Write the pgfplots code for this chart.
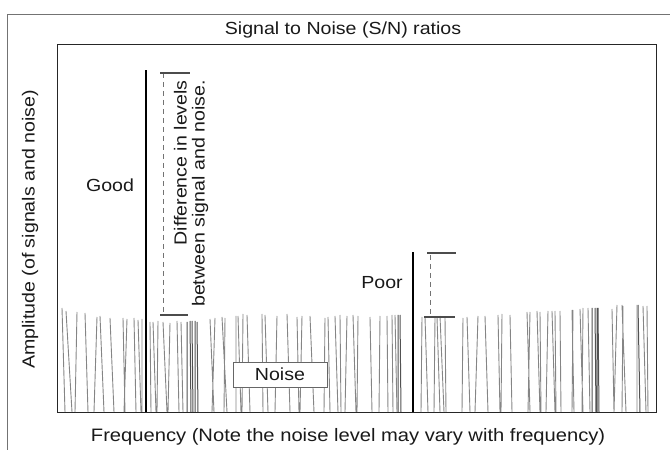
\documentclass[border=0pt]{standalone}
\usepackage{fontspec}
\setmainfont{Liberation Sans}[FakeStretch=1.12]
\usepackage{pgfplots}
\pgfplotsset{compat=1.18}
\newcommand{\lbl}{\fontsize{17.5}{19}\selectfont}
\begin{document}
\begin{tikzpicture}
\begin{axis}[
  x=1pt, y=1pt,
  xmin=57, xmax=656, ymin=0, ymax=368,
  xtick=\empty, ytick=\empty,
  axis line style={black!85, line width=0.8pt},
  clip=false,
  unbounded coords=jump,
  every axis title shift=0pt,
  title={Signal to Noise (S/N) ratios},
  title style={at={(0.4775,1.038)}, anchor=center, font=\lbl, text=black!90},
  xlabel={Frequency (Note the noise level may vary with frequency)},
  xlabel style={at={(0.486,-0.068)}, anchor=center, font=\fontsize{18}{20}\selectfont, text=black!90},
  ylabel={Amplitude (of signals and noise)},
  ylabel style={at={(-0.045,0.496)}, anchor=center, rotate=0, font=\lbl, text=black!90},
]
% light noise lines
\addplot[black!48, line width=0.9pt] coordinates {
(65,0) (62,104) (62,nan)
(72,0) (66,101) (66,nan)
(75,0) (77,100) (77,nan)
(88,0) (85,99) (85,nan)
(94,0) (97,95) (97,nan)
(104,0) (100,96) (100,nan)
(114,0) (110,94) (110,nan)
(125,0) (123,94) (123,nan)
(124,0) (127,93) (127,nan)
(136,0) (134,94) (134,nan)
(141,0) (138,92) (138,nan)
(142,0) (142,93) (142,nan)
(151,0) (150,90) (150,nan)
(156,0) (153,90) (153,nan)
(157,0) (158,91) (158,nan)
(167,0) (163,90) (163,nan)
(168,0) (170,89) (170,nan)
(179,0) (177,91) (177,nan)
(183,0) (181,90) (181,nan)
(214,0) (210,93) (210,nan)
(212,0) (215,94) (215,nan)
(227,0) (222,95) (222,nan)
(224,0) (225,94) (225,nan)
(236,0) (236,96) (236,nan)
(241,0) (238,96) (238,nan)
(242,0) (243,98) (243,nan)
(250,0) (247,97) (247,nan)
(263,0) (262,98) (262,nan)
(268,0) (265,97) (265,nan)
(275,0) (277,96) (277,nan)
(290,0) (287,98) (287,nan)
(299,0) (297,95) (297,nan)
(300,0) (302,96) (302,nan)
(314,0) (310,96) (310,nan)
(324,0) (325,94) (325,nan)
(330,0) (328,95) (328,nan)
(338,0) (335,96) (335,nan)
(341,0) (340,97) (340,nan)
(345,0) (347,96) (347,nan)
(356,0) (353,97) (353,nan)
(357,0) (358,96) (358,nan)
(372,0) (370,95) (370,nan)
(379,0) (380,96) (380,nan)
(388,0) (387,96) (387,nan)
(393,0) (392,97) (392,nan)
(397,0) (395,97) (395,nan)
(421,0) (422,95) (422,nan)
(428,0) (425,95) (425,nan)
(434,0) (435,94) (435,nan)
(440,0) (437,95) (437,nan)
(444,0) (440,96) (440,nan)
(446,0) (445,95) (445,nan)
(462,0) (463,94) (463,nan)
(470,0) (467,95) (467,nan)
(475,0) (478,96) (478,nan)
(488,0) (485,96) (485,nan)
(500,0) (498,97) (498,nan)
(501,0) (502,98) (502,nan)
(512,0) (510,97) (510,nan)
(530,0) (527,100) (527,nan)
(528,0) (530,100) (530,nan)
(540,0) (537,101) (537,nan)
(541,0) (540,100) (540,nan)
(546,0) (548,101) (548,nan)
(555,0) (552,101) (552,nan)
(556,0) (555,101) (555,nan)
(561,0) (560,101) (560,nan)
(574,0) (572,102) (572,nan)
(572,0) (573,102) (573,nan)
(583,0) (580,103) (580,nan)
(582,0) (583,104) (583,nan)
(590,0) (588,104) (588,nan)
(614,0) (612,103) (612,nan)
(614,0) (617,107) (617,nan)
(626,0) (622,107) (622,nan)
(622,0) (623,106) (623,nan)
(637,0) (637,107) (637,nan)
(646,0) (643,106) (643,nan)
(648,0) (647,106) (647,nan)
};
% darker noise lines
\addplot[black!68, line width=1pt] coordinates {
(187,0) (187,90) (187,nan)
(191,0) (190,91) (190,nan)
(193,0) (192,91) (192,nan)
(195,0) (195,91) (195,nan)
(198,0) (197,90) (197,nan)
(398,0) (398,97) (398,nan)
(401,0) (400,97) (400,nan)
(592,0) (592,104) (592,nan)
(596,0) (595,104) (595,nan)
(597,0) (597,104) (597,nan)
(599,0) (598,104) (598,nan)
(640,0) (638,107) (638,nan)
};
% signals
\addplot[black, line width=2pt] coordinates {(146,0) (146,342)};
\addplot[black, line width=2.8pt] coordinates {(413,0) (413,160)};
% difference markers
\addplot[black!55, line width=0.9pt, dash pattern=on 5pt off 4pt] coordinates {(163,339) (163,97)};
\addplot[black!70, line width=1.1pt] coordinates {(160,339) (190,339)};
\addplot[black!70, line width=1.1pt] coordinates {(160,97) (188,97)};
\addplot[black!55, line width=0.9pt, dash pattern=on 5pt off 4pt] coordinates {(430,157) (430,95)};
\addplot[black!70, line width=1.1pt] coordinates {(427,159) (456,159)};
\addplot[black!70, line width=1.1pt] coordinates {(424,95) (455,95)};
% text
\node[font=\lbl, text=black!90] at (axis cs:110,227) {Good};
\node[font=\lbl, text=black!90] at (axis cs:382,129) {Poor};
\node[font=\lbl, text=black!90, rotate=90, anchor=east, align=right,
      inner sep=0pt] at (axis cs:191,332)
      {Difference in levels\\[-1pt]between signal and noise.};
\node[draw=black!60, line width=0.9pt, fill=white, minimum width=94pt,
      minimum height=25pt, inner sep=0pt, font=\lbl, text=black!90]
      at (axis cs:280,37.5) {Noise};
% outer frame
\draw[black!55, line width=0.9pt] (axis cs:7,-38) -- (axis cs:7,398) -- (axis cs:670,398);
\coordinate (BL) at (axis cs:0,-38);
\coordinate (TR) at (axis cs:670,412);
\end{axis}
\pgfresetboundingbox
\useasboundingbox (BL) rectangle (TR);
\end{tikzpicture}
\end{document}
